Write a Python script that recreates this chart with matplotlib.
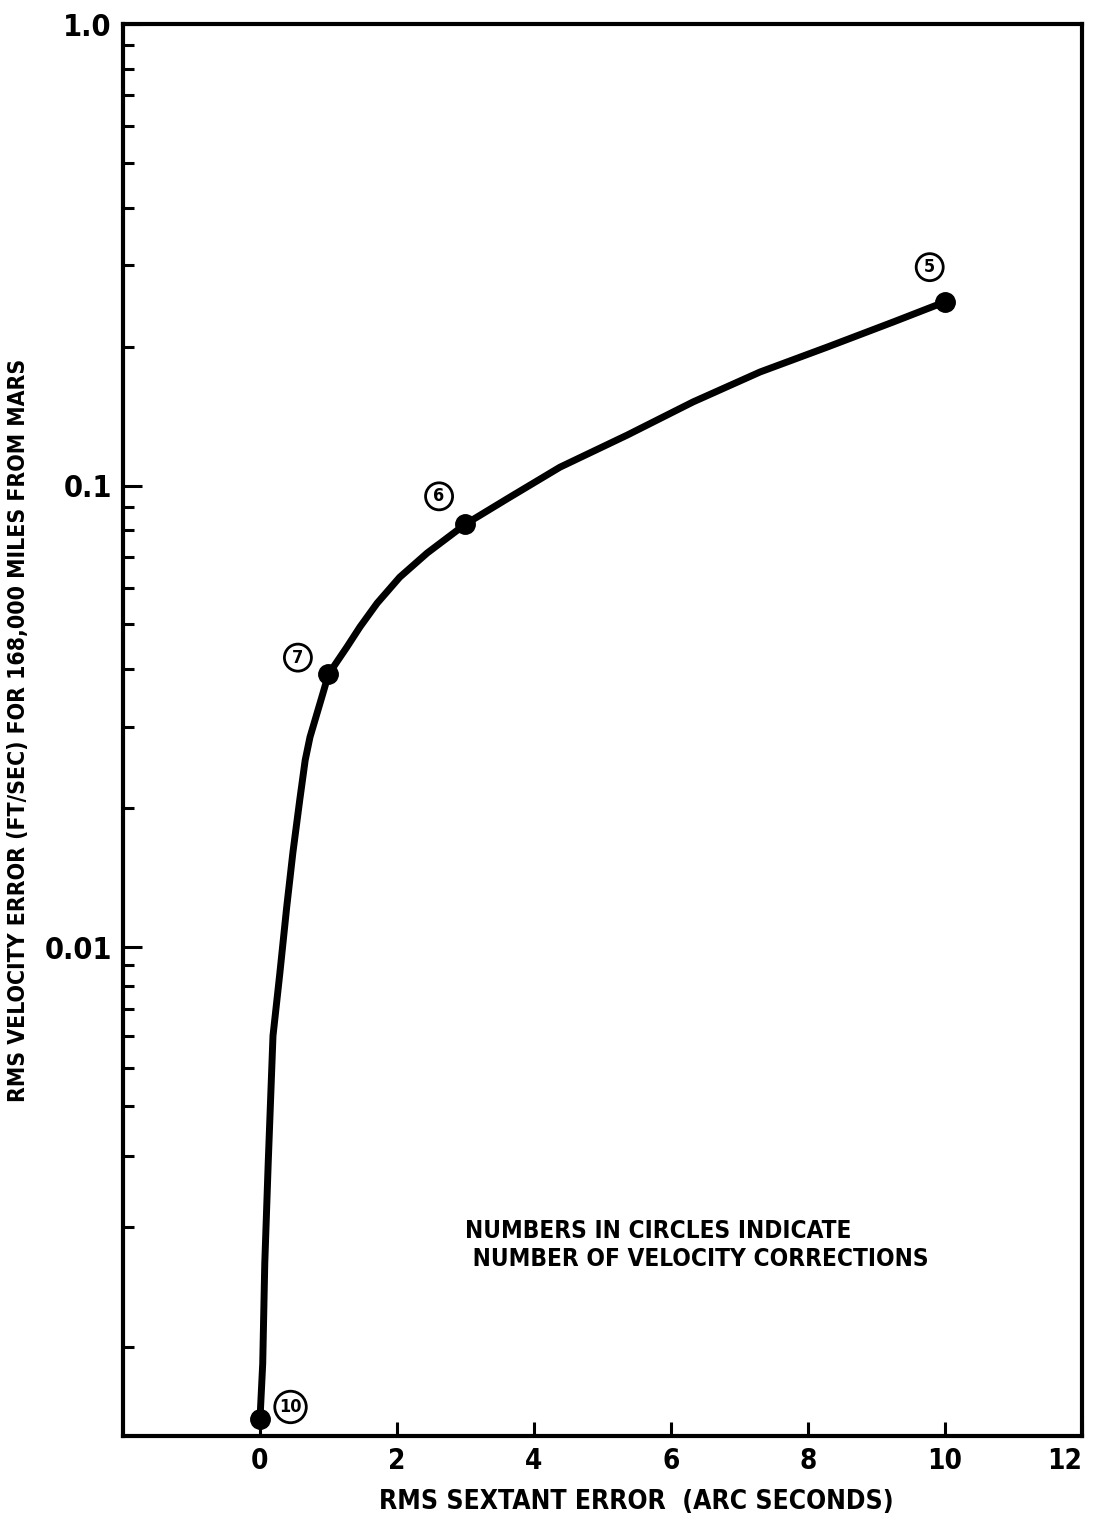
import numpy as np
import matplotlib
matplotlib.use("Agg")
import matplotlib.pyplot as plt
from matplotlib.ticker import FixedLocator, FixedFormatter, NullFormatter

plt.rcParams['font.family'] = ['DejaVu Sans']
plt.rcParams['font.stretch'] = 'condensed'
plt.rcParams['font.weight'] = 'bold'

# curve (rms sextant error, rms velocity error)
curve_x = [0.0, 0.04, 0.07, 0.12, 0.19, 0.29, 0.39, 0.48, 0.58, 0.66, 0.73, 0.92, 1.0,
           1.27, 1.46, 1.71, 2.04, 2.44, 3.0, 3.65, 4.38, 5.36, 6.32, 7.30, 8.28, 9.24, 10.0]
curve_y = [0.00066, 0.00091, 0.00162, 0.00288, 0.0060, 0.0086, 0.0122, 0.0160, 0.0208,
           0.0254, 0.0285, 0.0355, 0.0390, 0.0447, 0.0494, 0.0556, 0.0633, 0.0714, 0.0825,
           0.0944, 0.1096, 0.1286, 0.1517, 0.1762, 0.1995, 0.226, 0.250]

# marked points and the number of velocity corrections
pt_x = [10, 3, 1, 0]
pt_y = [0.250, 0.0825, 0.0390, 0.00066]
pt_n = ['5', '6', '7', '10']
pt_off = [(-11, 25), (-19, 20), (-22, 12), (22, 9)]

x_ticks = [0, 2, 4, 6, 8, 10, 12]
y_major = [0.01, 0.1, 1.0]
y_major_labels = ['0.01', '0.1', '1.0']
y_minor = [k * 0.001 for k in range(1, 10)] + [k * 0.01 for k in range(2, 10)] + [k * 0.1 for k in range(2, 10)]

# hand drawn paper: the lowest decade is drawn a bit shorter than the others
squeeze = 0.867


def fwd(y):
    t = np.log10(np.clip(y, 1e-12, None))
    return np.where(t >= -2, t, -2 + (t + 2) * squeeze)


def inv(t):
    t = np.asarray(t, dtype=float)
    return np.where(t >= -2, 10.0 ** t, 10.0 ** (-2 + (t + 2) / squeeze))


fig = plt.figure(figsize=(10.96, 15.29), dpi=100)
ax = fig.add_axes([0.1122, 0.0608, 0.875, 0.9235])

ax.plot(curve_x, curve_y, color='black', lw=5, solid_capstyle='round', solid_joinstyle='round', zorder=3)
ax.plot(pt_x, pt_y, 'o', color='black', ms=14, zorder=4)
for x, y, n, off in zip(pt_x, pt_y, pt_n, pt_off):
    ax.annotate(n, (x, y), xytext=off, textcoords='offset points', ha='center', va='center',
                fontsize=13, fontweight='bold',
                bbox=dict(boxstyle='circle,pad=0.25', fc='white', ec='black', lw=2))

ax.set_yscale('function', functions=(fwd, inv))
ax.set_xlim(-2, 12)
ax.set_ylim(0.0006, 1.0)

ax.xaxis.set_major_locator(FixedLocator(x_ticks))
ax.yaxis.set_major_locator(FixedLocator(y_major))
ax.yaxis.set_major_formatter(FixedFormatter(y_major_labels))
ax.yaxis.set_minor_locator(FixedLocator(y_minor))
ax.yaxis.set_minor_formatter(NullFormatter())

ax.tick_params(axis='x', direction='in', length=10, width=2.2, pad=8, labelsize=20)
ax.tick_params(axis='y', which='major', direction='in', length=14, width=2.2, pad=8, labelsize=22)
ax.tick_params(axis='y', which='minor', direction='in', length=8, width=2.2)
ax.get_xticklabels()[-1].set_horizontalalignment('right')

for s in ax.spines.values():
    s.set_linewidth(3)

ax.set_xlabel('RMS SEXTANT ERROR  (ARC SECONDS)', fontsize=19, fontweight='bold', labelpad=10, x=0.535)
ax.set_ylabel('RMS VELOCITY ERROR (FT/SEC) FOR 168,000 MILES FROM MARS', fontsize=16.5,
              fontweight='bold', labelpad=10)

ax.text(3.0, 0.0018, 'NUMBERS IN CIRCLES INDICATE\n NUMBER OF VELOCITY CORRECTIONS',
        fontsize=17.5, fontweight='bold', ha='left', va='center', linespacing=1.25)

fig.savefig('out.png', dpi=100)
